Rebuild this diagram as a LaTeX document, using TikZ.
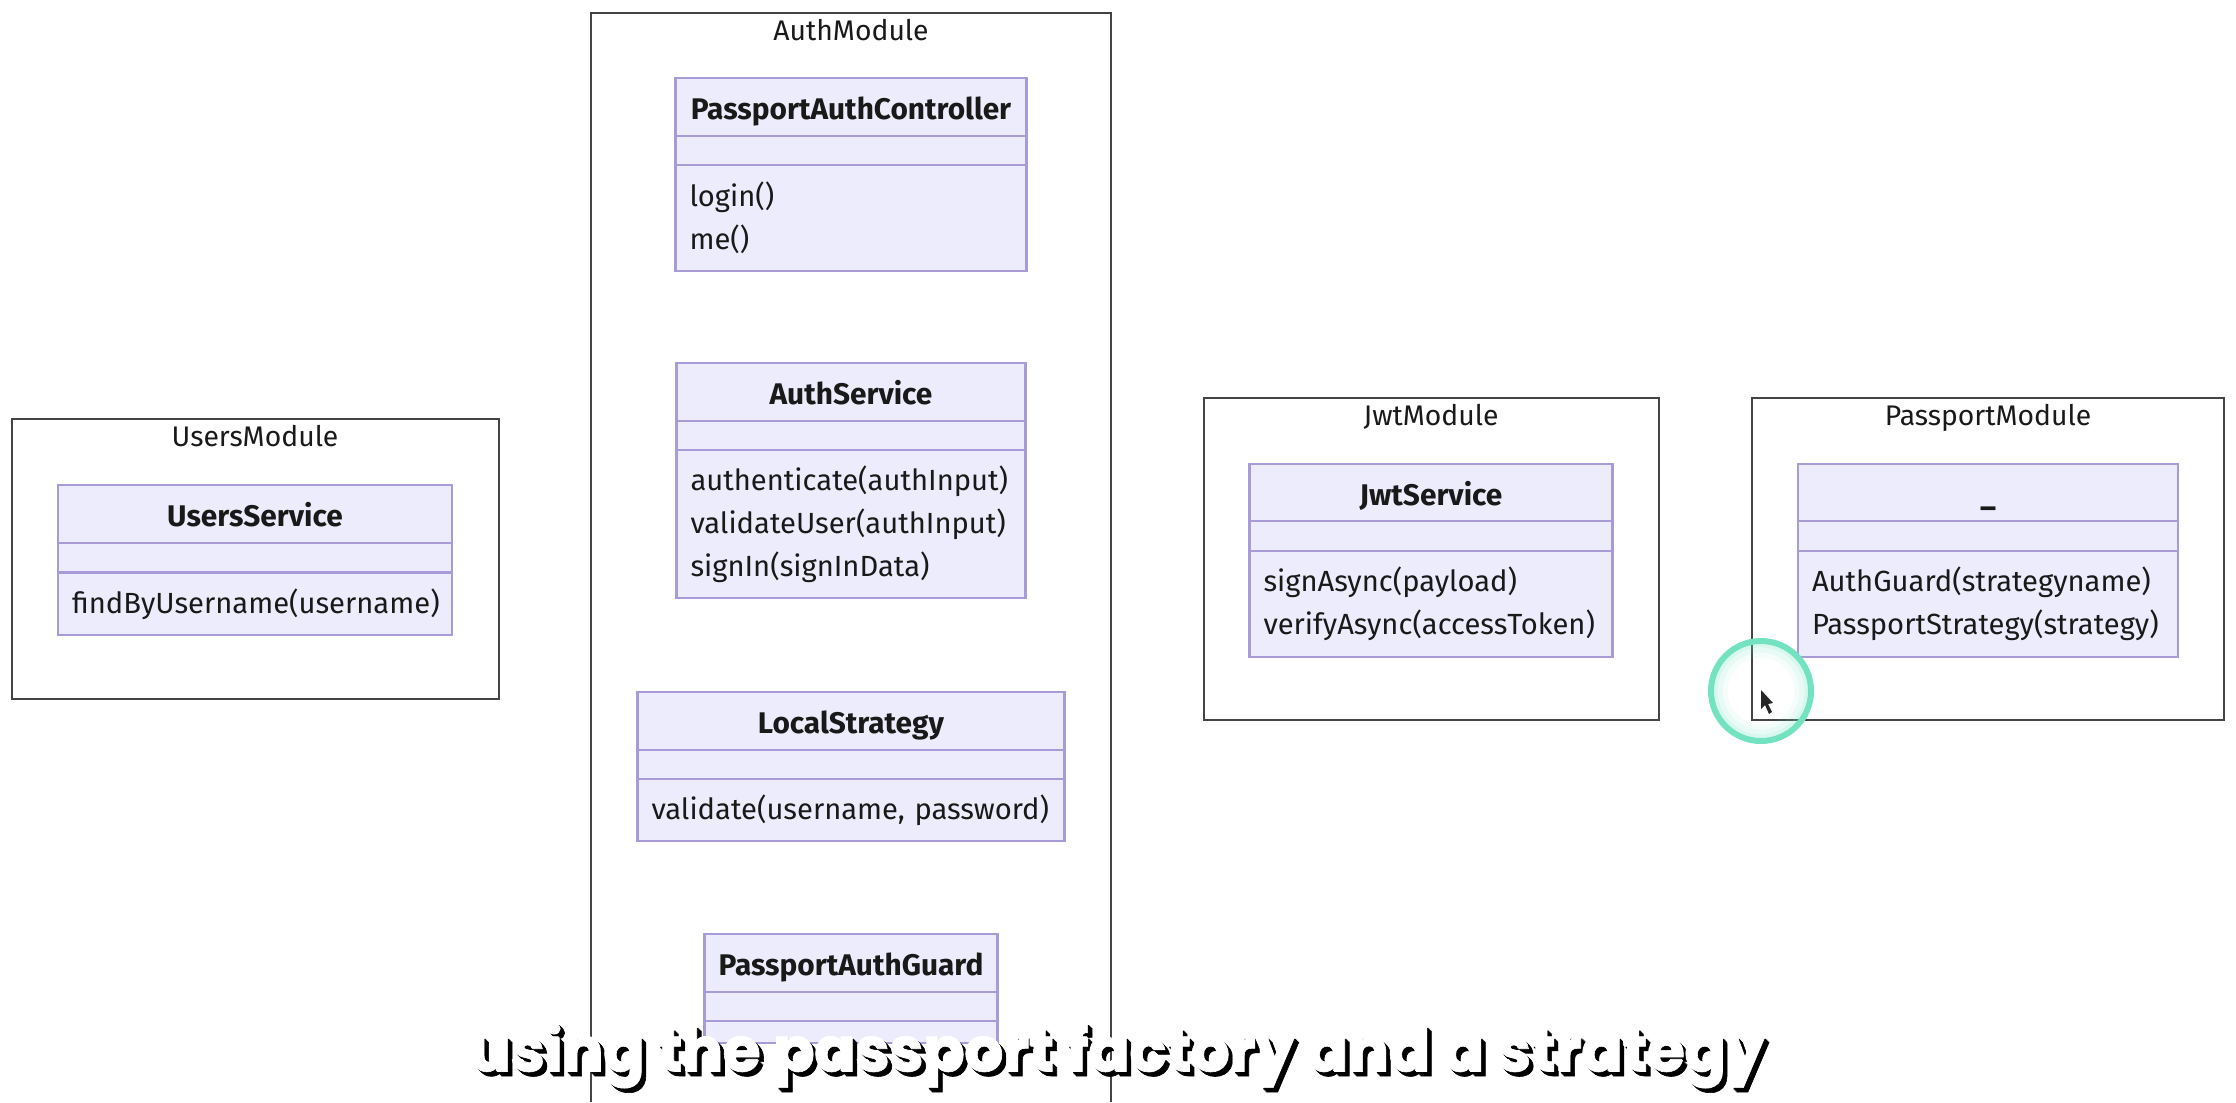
\documentclass[tikz,border=0pt]{standalone}
\usepackage{fontspec}
\setmainfont{Fira Sans}
\newfontfamily\capfont[BoldFeatures={FakeBold=1.0}]{Poppins}
\usepackage{tikz}

\def\px{0.3pt}
\definecolor{classline}{HTML}{A99BD8}
\definecolor{classfill}{HTML}{ECECFC}
\definecolor{moduleline}{HTML}{444444}
\definecolor{ringline}{HTML}{73E2C0}
\tikzset{
  modulebox/.style={draw=moduleline, line width=2*\px},
  modulelabel/.style={anchor=north, inner sep=0pt, font=\fontsize{8.5}{10}\selectfont, text=black!90},
  classhead/.style={draw=classline, fill=classfill, line width=2.1*\px, anchor=north, minimum width=#1*\px, minimum height=58*\px, inner sep=0pt, text height=7.2pt, text depth=0pt, font=\fontsize{8.95}{10}\selectfont\bfseries, text=black!90},
  classgap/.style={draw=classline, fill=classfill, line width=2.1*\px, anchor=north, minimum width=#1*\px, minimum height=29*\px, inner sep=0pt},
  classbody/.style={draw=classline, fill=classfill, line width=2.1*\px, anchor=north, text width=(#1-28)*\px, inner xsep=14*\px, inner ysep=0pt, align=left, font=\fontsize{8.75}{12.9}\selectfont, text=black!90},
  captiontext/.style={anchor=base, inner sep=0pt, font=\capfont\fontsize{18.2}{20}\bfseries\selectfont},
}

\begin{document}
\begin{tikzpicture}[x=0.3pt,y=-0.3pt]
    \useasboundingbox (0,0) rectangle (2236,1102);

    % Modules
    \node[modulebox, minimum width=487*\px, minimum height=280*\px] (UsersModule) at (255,559) {};
    \node[modulebox, minimum width=455*\px, minimum height=322*\px] (JwtModule) at (1431,559) {};
    \node[modulebox, minimum width=472*\px, minimum height=322*\px] (PassportModule) at (1988,559) {};
    \coordinate (AuthSW) at (591,1102);
    \coordinate (AuthNE) at (1111,13);
    \coordinate (AuthSE) at (1111,1102);
    \draw[modulebox] (AuthSW) |- (AuthNE) -- (AuthSE);

    % Module labels
    \node[modulelabel] (UsersLabel) at (255,425) {UsersModule};
    \node[modulelabel] (AuthLabel) at (851,19) {AuthModule};
    \node[modulelabel] (JwtLabel) at (1431,404) {JwtModule};
    \node[modulelabel] (PassportLabel) at (1988,404) {PassportModule};

    % UsersModule classes
    \node[classhead=394] (UsersHead) at (255,484) {UsersService};
    \node[classgap=394] (UsersGap) at (255,542) {};
    \node[classbody=394, minimum height=62*\px] (UsersBody) at (255,572) {findByUsername(username)};

    % AuthModule classes
    \node[classhead=351] (CtrlHead) at (851,77) {PassportAuthController};
    \node[classgap=351] (CtrlGap) at (851,135) {};
    \node[classbody=351, minimum height=106*\px] (CtrlBody) at (851,164) {login()\\me()};

    \node[classhead=349] (ServiceHead) at (851,362) {AuthService};
    \node[classgap=349] (ServiceGap) at (851,420) {};
    \node[classbody=349, minimum height=148*\px] (ServiceBody) at (851,449) {authenticate(authInput)\\validateUser(authInput)\\signIn(signInData)};

    \node[classhead=427] (LocalHead) at (851,691) {LocalStrategy};
    \node[classgap=427] (LocalGap) at (851,749) {};
    \node[classbody=427, minimum height=62*\px] (LocalBody) at (851,778) {validate(username, password)};

    \node[classhead=293] (GuardHead) at (851,933) {PassportAuthGuard};
    \node[classgap=293] (GuardGap) at (851,991) {};
    \node[classgap=293, minimum height=22*\px] (GuardBody) at (851,1020) {};

    % JwtModule classes
    \node[classhead=363] (JwtHead) at (1431,463) {JwtService};
    \node[classgap=363, minimum height=30*\px] (JwtGap) at (1431,520) {};
    \node[classbody=363, minimum height=106*\px] (JwtBody) at (1431,550) {signAsync(payload)\\verifyAsync(accessToken)};

    % PassportModule classes
    \node[classhead=380] (PassportHead) at (1988,463) {\_};
    \node[classgap=380, minimum height=30*\px] (PassportGap) at (1988,520) {};
    \node[classbody=380, minimum height=106*\px] (PassportBody) at (1988,550) {AuthGuard(strategyname)\\PassportStrategy(strategy)};

    % Pointer ring
    \foreach \r/\o in {46/0.28,41/0.16,36/0.08}
      \draw[ringline, opacity=\o, line width=5*\px] (1761,691) circle[radius=\r];
    \draw[ringline, line width=6*\px] (1761,691) circle[radius=50];
    \fill[black!85] (1761,690) -- (1761,709) -- (1765,705) -- (1769,714) -- (1772,712) -- (1768,704) -- (1773,703) -- cycle;

    % Caption
    \foreach \i in {2,...,5}
      \node[captiontext, text=black] (CaptionShadow\i) at (1117+\i,1071+\i) {using the passport factory and a strategy};
    \node[captiontext, text=white] (CaptionBack) at (1117.5,1071.5) {using the passport factory and a strategy};
    \node[captiontext, text=white] (Caption) at (1116.5,1070.5) {using the passport factory and a strategy};
\end{tikzpicture}
\end{document}
